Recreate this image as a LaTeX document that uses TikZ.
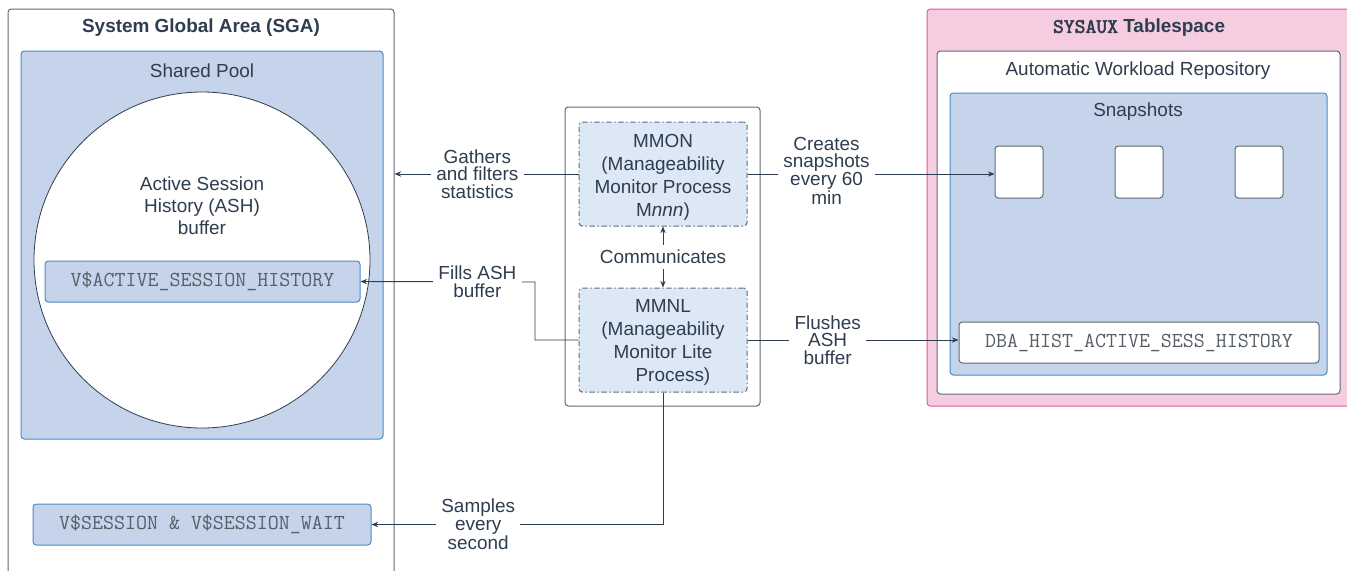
\documentclass[tikz,border=0pt]{standalone}
\usepackage{fontspec}
\setmainfont{Liberation Sans}
\newfontfamily\boldmono{lmmono10-regular.otf}[FakeBold=2.5]
\usetikzlibrary{arrows.meta,fit}

\definecolor{inkc}{HTML}{2E3D4F}
\definecolor{monoc}{HTML}{575E66}
\definecolor{graybd}{HTML}{5F6B78}
\definecolor{bluefill}{HTML}{C5D4EA}
\definecolor{bluebd}{HTML}{4A8BCB}
\definecolor{lightfill}{HTML}{DCE8F5}
\definecolor{pinkfill}{HTML}{F6CDE0}
\definecolor{pinkbd}{HTML}{E5559F}

\begin{document}
\begin{tikzpicture}[x=0.75pt, y=-0.75pt, text=inkc,
  font=\fontsize{14.2}{13.2}\selectfont,
  box/.style={draw=graybd, fill=white, rounded corners=2.5pt, inner sep=0pt, line width=0.75pt},
  pool/.style={box, draw=bluebd, fill=bluefill},
  proc/.style={box, fill=lightfill, dash pattern=on 4pt off 2pt on 1pt off 2pt},
  tabl/.style={pool},
  tname/.style={font=\fontsize{16}{13.2}\ttfamily, text=monoc},
  snap/.style={box, minimum width=36pt, minimum height=39pt},
  lbl/.style={fill=white, align=center, inner sep=4pt},
  flow/.style={draw=inkc, line width=0.7pt, -{Stealth[length=5pt,width=4pt]}}]
  \useasboundingbox (0,0) rectangle (1347,571);

  % System Global Area
  \node[box, fit={(8,9) (394,600)}] (sga) {};
  \node[font=\fontsize{14.2}{13.2}\bfseries] at (201,28) {System Global Area (SGA)};
  \node[pool, fit={(21,51) (383,439)}] (shpool) {};
  \node at (202,71) {Shared Pool};
  \node[circle, draw=inkc, fill=white, line width=0.6pt, minimum size=252pt, inner sep=0pt] (ash) at (202,260) {};
  \node[align=center, font=\fontsize{14.2}{16.5}\selectfont] at (202,206) {Active Session\\History (ASH)\\buffer};
  \node[tabl, fit={(45,261) (360,302)}] (vash) {};
  \node[tname] at (vash) {V\$ACTIVE\_SESSION\_HISTORY};
  \node[tabl, fit={(33,504) (371,545)}] (vsess) {};
  \node[tname] at (vsess) {V\$SESSION \& V\$SESSION\_WAIT};

  % background processes
  \node[box, fit={(565,107) (760,406)}] (bgproc) {};
  \node[proc, fit={(579,122) (747,226)}] (mmon) {};
  \node[align=center, font=\fontsize{14.2}{17.25}\selectfont] at (663,177) {MMON\\(Manageability\\Monitor Process\\M\textit{nnn})};
  \node[proc, fit={(579,288) (747,392)}] (mmnl) {};
  \node[align=center, font=\fontsize{14.2}{17.25}\selectfont] at (663,342) {MMNL\\(Manageability\\Monitor Lite\hspace*{1.6em}\\\hspace*{1.05em}Process)};

  % SYSAUX tablespace
  \node[box, draw=pinkbd, fill=pinkfill, fit={(927,9) (1353,406)}] (sysaux) {};
  \node[font=\fontsize{14.2}{13.2}\bfseries] at (1139,28) {{\fontsize{15.5}{13.2}\boldmono SYSAUX} Tablespace};
  \node[box, fit={(937,51) (1340,394)}] (awr) {};
  \node at (1138,71) {Automatic Workload Repository};
  \node[pool, fit={(950,93) (1327,375)}] (snaps) {};
  \node at (1138,112) {Snapshots};
  \node[snap] (snapA) at (1019,172) {};
  \node[snap] (snapB) at (1139,172) {};
  \node[snap] (snapC) at (1259,172) {};
  \node[box, fit={(959,322) (1319,363)}] (dba) {};
  \node[tname] at (dba) {DBA\_HIST\_ACTIVE\_SESS\_HISTORY};

  % connectors
  \coordinate (fillbend) at (535,282);
  \draw[flow] (mmon.west) -- node[lbl, pos=0.55] {Gathers\\and filters\\statistics} (mmon.west -| sga.east);
  \draw[flow] (mmnl.west) -| (fillbend) -- node[lbl, pos=0.33] {Fills ASH\\buffer} (vash.east);
  \draw[flow] (mmnl.south) |- node[lbl, pos=0.817] {Samples\\every\\second} (vsess.east);
  \draw[flow] (mmon.east) -- node[lbl, pos=0.32, yshift=2.5pt] {Creates\\snapshots\\every 60\\min} (mmon.east -| snapA.west);
  \draw[flow] (mmnl.east) -- node[lbl, pos=0.38] {Flushes\\ASH\\buffer} (mmnl.east -| dba.west);
  \draw[flow, {Stealth[length=5pt,width=4pt]}-{Stealth[length=5pt,width=4pt]}] (mmon.south) -- node[lbl, inner xsep=2pt] {Communicates} (mmnl.north);
\end{tikzpicture}
\end{document}
